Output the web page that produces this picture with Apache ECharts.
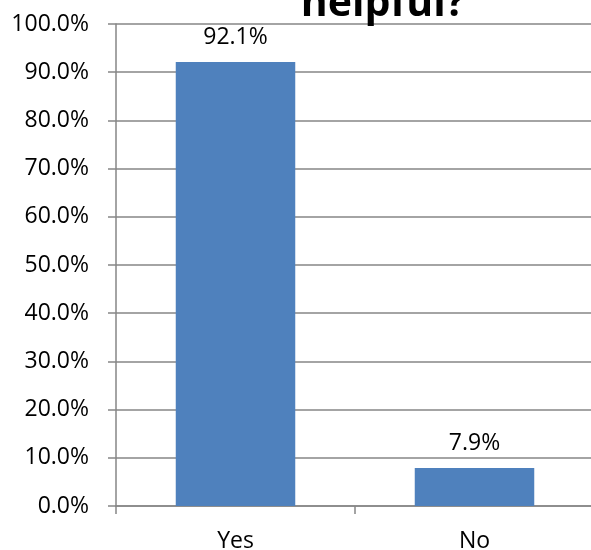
<!DOCTYPE html>
<html><head><meta charset="utf-8">
<script src="https://cdn.jsdelivr.net/npm/echarts@6/dist/echarts.min.js"></script>
<style>html,body{margin:0;padding:0;background:#fff}#c{width:591px;height:550px}</style>
</head><body><div id="c"></div>
<script>
const categories = ['Yes', 'No'];
const values = [92.1, 7.9];
const titleText = 'helpful?';
const FONT = 'Open Sans';
const chart = echarts.init(document.getElementById('c'), null, {renderer: 'canvas'});
chart.setOption({
  animation: false,
  title: {
    text: titleText, left: 378, top: -21, textAlign: 'center',
    textStyle: {fontFamily: FONT, fontWeight: 'bold', fontSize: 41, color: '#000'}
  },
  grid: {left: 116, top: 24, right: -3, bottom: 44, containLabel: false, outerBoundsMode: 'none'},
  xAxis: {
    type: 'category', data: categories,
    axisLine: {lineStyle: {color: '#868686', width: 1.5}},
    axisTick: {show: true, alignWithLabel: false, length: 8, lineStyle: {color: '#868686', width: 1.5}},
    axisLabel: {fontFamily: FONT, fontSize: 23, color: '#000', margin: 24}
  },
  yAxis: {
    type: 'value', min: 0, max: 100, interval: 10,
    axisLine: {show: true, lineStyle: {color: '#868686', width: 1.5}},
    axisTick: {show: true, length: 8, lineStyle: {color: '#868686', width: 1.5}},
    splitLine: {lineStyle: {color: '#868686', width: 1.5}},
    axisLabel: {fontFamily: FONT, fontSize: 23, color: '#000', margin: 27, formatter: v => v.toFixed(1) + '%'}
  },
  series: [{
    type: 'bar', data: values, barWidth: '50%',
    itemStyle: {color: '#4f81bd'},
    label: {show: true, position: 'top', distance: 13, fontFamily: FONT, fontSize: 23, color: '#000', formatter: p => p.value.toFixed(1) + '%'}
  }]
});
</script></body></html>
